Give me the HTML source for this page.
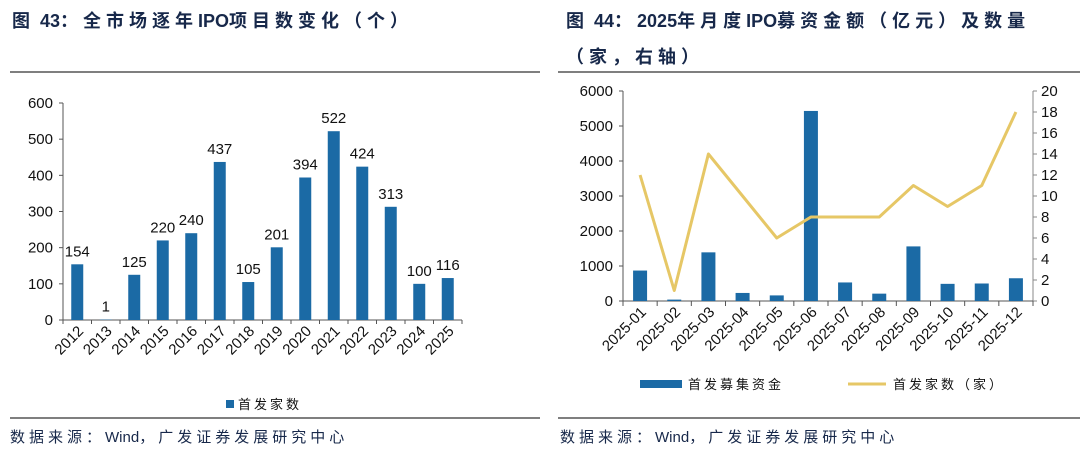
<!DOCTYPE html>
<html><head><meta charset="utf-8">
<style>
body{margin:0;background:#fff;}
svg text{font-family:"Liberation Sans","Noto Sans CJK SC",sans-serif;}
</style></head>
<body>
<svg width="1080" height="453" viewBox="0 0 1080 453" xmlns="http://www.w3.org/2000/svg">
<g id="left"></g>
<g id="right"></g>
</svg>
<script>
const years=["2012","2013","2014","2015","2016","2017","2018","2019","2020","2021","2022","2023","2024","2025"];
const ipoCounts=[154,1,125,220,240,437,105,201,394,522,424,313,100,116];
const leftTicks=[0,100,200,300,400,500,600];
const months=["2025-01","2025-02","2025-03","2025-04","2025-05","2025-06","2025-07","2025-08","2025-09","2025-10","2025-11","2025-12"];
const raised=[870,40,1390,230,160,5430,530,210,1560,490,500,650];
const monthCounts=[12,1,14,10,6,8,8,8,11,9,11,18];
const rightTicksL=[0,1000,2000,3000,4000,5000,6000];
const rightTicksR=[0,2,4,6,8,10,12,14,16,18,20];

const NS="http://www.w3.org/2000/svg";
const svg=document.querySelector('svg');
function el(tag,attrs,parent,txt){const e=document.createElementNS(NS,tag);for(const k in attrs)e.setAttribute(k,attrs[k]);if(txt!==undefined)e.textContent=txt;(parent||svg).appendChild(e);return e;}
function mixed(attrs,str,sp){
 const e=el('text',attrs,svg);
 const runs=str.match(/[\u3000-\u9fff\uff00-\uffef]+|[^\u3000-\u9fff\uff00-\uffef]+/g);
 runs.forEach(r=>{const cjk=/[\u3000-\u9fff\uff00-\uffef]/.test(r);el('tspan',cjk?{'letter-spacing':sp}:{},e,r);});
 return e;
}
const NAVY="#17284a", BLUE="#1b6aa5", GOLD="#e6c766", TXT="#111";

let t=mixed({x:12,y:27,'font-size':18,'font-weight':'bold',fill:NAVY},'图 43：全市场逐年IPO项目数变化（个）',5);

t=mixed({x:566,y:27,'font-size':18,'font-weight':'bold',fill:NAVY},'图 44：2025年月度IPO募资金额（亿元）及数量',5);

t=mixed({x:566,y:63,'font-size':18,'font-weight':'bold',fill:NAVY},'（家，右轴）',5);

[[10,72,540],[558,72,1080],[10,418,540],[558,418,1080]].forEach((d,i)=>{
 const l=el('line',{x1:d[0],y1:d[1],x2:d[2],y2:d[1],stroke:'#333','stroke-width':1.3});
 
});
t=mixed({x:10,y:442,'font-size':15,fill:NAVY},'数据来源：Wind，广发证券发展研究中心',4);

t=mixed({x:560,y:442,'font-size':15,fill:NAVY},'数据来源：Wind，广发证券发展研究中心',4);


const L=document.getElementById('left');

const lx0=63,lx1=462,ly0=320,ly1=103,lmax=600;
const ly=v=>ly0-(v/lmax)*(ly0-ly1);
const lstep=(lx1-lx0)/years.length;
el('line',{x1:lx0,y1:ly1,x2:lx0,y2:ly0,stroke:'#555'},L);
el('line',{x1:lx0,y1:ly0,x2:lx1,y2:ly0,stroke:'#555'},L);
leftTicks.forEach(v=>{
 el('line',{x1:lx0-4,y1:ly(v),x2:lx0,y2:ly(v),stroke:'#555'},L);
 const tt=el('text',{x:lx0-10,y:ly(v)+5,'font-size':15,'text-anchor':'end',fill:TXT},L,String(v));
 
});
for(let i=0;i<=years.length;i++) el('line',{x1:lx0+i*lstep,y1:ly0,x2:lx0+i*lstep,y2:ly0+4,stroke:'#555'},L);
years.forEach((y,i)=>{
 const cx=lx0+(i+0.5)*lstep;
 const b=el('rect',{x:cx-6,y:ly(ipoCounts[i]),width:12,height:ly0-ly(ipoCounts[i]),fill:BLUE},L);
 
 const v=el('text',{x:cx,y:ly(ipoCounts[i])-8,'font-size':15,'text-anchor':'middle',fill:TXT},L,String(ipoCounts[i]));
 
 const xl=el('text',{x:0,y:0,'font-size':15,'text-anchor':'end',fill:TXT,transform:`translate(${cx+7},${ly0+12}) rotate(-45)`},L,y);
 
});
let lg=el('rect',{x:226,y:400,width:8,height:8,fill:BLUE},L);

lg=el('text',{x:238,y:409,'font-size':13,fill:TXT,'letter-spacing':3},L,'首发家数');


const R=document.getElementById('right');

const rx0=623,rx1=1033,ry0=301,ry1=91;
const ryL=v=>ry0-(v/6000)*(ry0-ry1);
const ryR=v=>ry0-(v/20)*(ry0-ry1);
const rstep=(rx1-rx0)/months.length;
el('line',{x1:rx0,y1:ry1,x2:rx0,y2:ry0,stroke:'#555'},R);
el('line',{x1:rx1,y1:ry1,x2:rx1,y2:ry0,stroke:'#888'},R);
el('line',{x1:rx0,y1:ry0,x2:rx1,y2:ry0,stroke:'#555'},R);
rightTicksL.forEach(v=>{
 el('line',{x1:rx0-4,y1:ryL(v),x2:rx0,y2:ryL(v),stroke:'#555'},R);
 const tt=el('text',{x:rx0-10,y:ryL(v)+5,'font-size':15,'text-anchor':'end',fill:TXT},R,String(v));
 
});
rightTicksR.forEach(v=>{
 el('line',{x1:rx1,y1:ryR(v),x2:rx1+4,y2:ryR(v),stroke:'#888'},R);
 const tt=el('text',{x:rx1+8,y:ryR(v)+5,'font-size':15,fill:TXT},R,String(v));
 
});
for(let i=0;i<=months.length;i++) el('line',{x1:rx0+i*rstep,y1:ry0,x2:rx0+i*rstep,y2:ry0+5,stroke:'#555'},R);
let pts=[];
months.forEach((m,i)=>{
 const cx=rx0+(i+0.5)*rstep;
 const b=el('rect',{x:cx-7,y:ryL(raised[i]),width:14,height:ry0-ryL(raised[i]),fill:BLUE},R);
 
 pts.push(cx+','+ryR(monthCounts[i]));
 const xl=el('text',{x:0,y:0,'font-size':15,'text-anchor':'end',fill:TXT,transform:`translate(${cx+7},${ry0+12}) rotate(-45)`},R,m);
 
});
const pl=el('polyline',{points:pts.join(' '),fill:'none',stroke:GOLD,'stroke-width':3,'stroke-linejoin':'round'},R);

lg=el('rect',{x:640,y:380,width:42,height:8,fill:BLUE},R);

lg=el('text',{x:688,y:389,'font-size':13,fill:TXT,'letter-spacing':3},R,'首发募集资金');

lg=el('line',{x1:848,y1:384,x2:886,y2:384,stroke:GOLD,'stroke-width':3},R);

lg=el('text',{x:893,y:389,'font-size':13,fill:TXT,'letter-spacing':3},R,'首发家数（家）');

</script>
</body></html>
